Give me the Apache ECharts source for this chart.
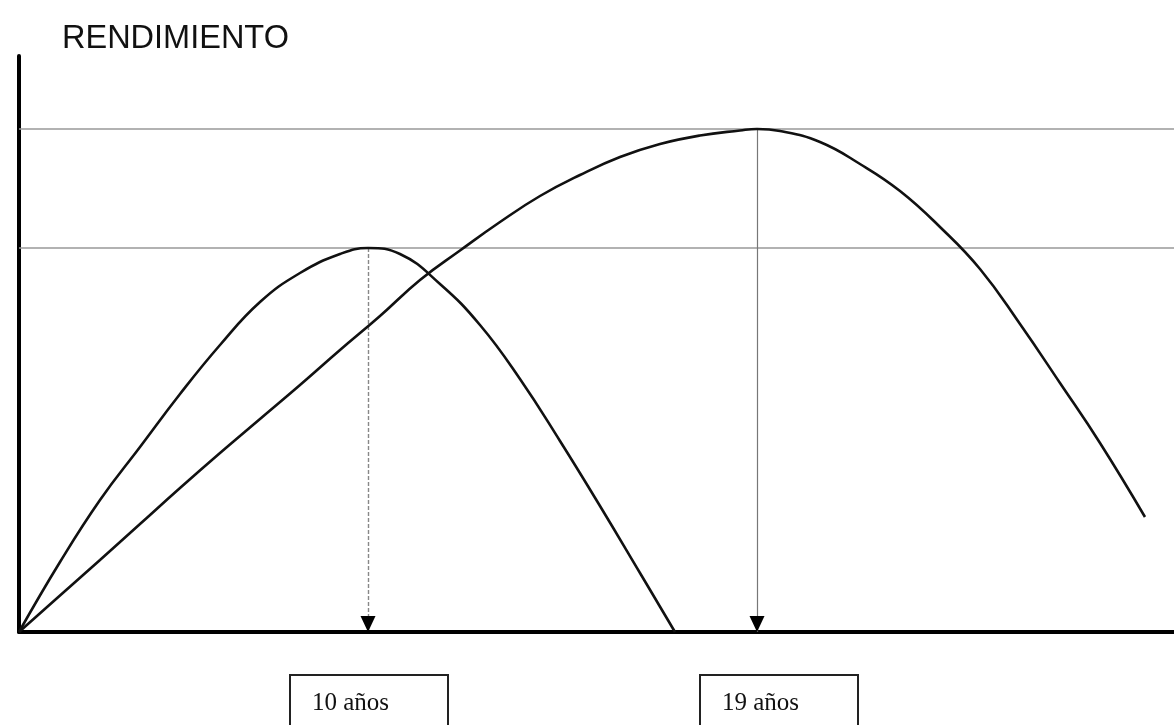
<!DOCTYPE html>
<html>
<head>
<meta charset="utf-8">
<script src="https://cdn.jsdelivr.net/npm/echarts@6/dist/echarts.min.js"></script>
<style>html,body{margin:0;padding:0;background:#fff;}#c{width:1174px;height:725px;}</style>
</head>
<body>
<div id="c"></div>
<script>
// Schematic units (horizontal: growth time, vertical: yield)
const yAxisTitle = 'RENDIMIENTO';
const curveShortX = [0, 4.1, 8.1, 12.1, 16.1, 20.1, 24.1, 28.1, 32.1, 34.9, 38.1, 42.1, 46.1, 50.1, 54.1, 58.1, 62.1, 65.6];
const curveShortY = [0, 14, 26.4, 37, 47.6, 57.4, 66, 71.8, 75.6, 76.8, 75.6, 69.6, 61.4, 50.6, 38.2, 25.2, 11.8, 0];
const curveLongX = [0, 4.1, 8.1, 12.1, 16.1, 20.1, 24.1, 28.1, 32.1, 36.1, 40.1, 44.1, 48.1, 52.1, 56.1, 60.1, 64.1, 68.1, 72.1, 73.8, 76.1, 80.1, 84.1, 88.1, 92.1, 96.1, 100.1, 104.1, 108.1, 112.6];
const curveLongY = [0, 7.3, 14.4, 21.6, 28.8, 35.8, 42.6, 49.4, 56.4, 63.2, 70.4, 76.3, 82, 87.2, 91.4, 95, 97.6, 99.3, 100.3, 100.6, 100.2, 98, 93.6, 88.2, 81, 72.6, 61.6, 49.8, 37.8, 23];
const rotationLabels = ['10 años', '19 años'];

const zip = (xs, ys) => xs.map((x, i) => [x, ys[i]]);
const peakOf = (xs, ys) => { let k = 0; ys.forEach((v, i) => { if (v > ys[k]) k = i; }); return [xs[k], ys[k]]; };
const p1 = peakOf(curveShortX, curveShortY);
const p2 = peakOf(curveLongX, curveLongY);

const chart = echarts.init(document.getElementById('c'), null, {renderer: 'canvas'});
const curveStyle = {color: '#111', width: 2.6};
const arrowPoint = (p) => ({
  symbol: 'triangle', symbolSize: [15, 16], symbolRotate: 180, symbolOffset: [0, '-50%'],
  silent: true, label: {show: false}, itemStyle: {color: '#000'},
  data: [{coord: [p[0], 0]}]
});
const option = {
  animation: false,
  backgroundColor: '#fff',
  title: {
    text: yAxisTitle, left: 62, top: 23, padding: 0,
    textStyle: {fontFamily: 'Liberation Sans, Arial, sans-serif', fontSize: 32.5, fontWeight: 'normal', color: '#111'}
  },
  grid: {left: 19, right: 0, top: 56, bottom: 93},
  xAxis: {
    type: 'value', min: 0, max: 115.5,
    axisLine: {show: true, onZero: false, lineStyle: {color: '#000', width: 4}},
    axisTick: {show: false}, axisLabel: {show: false}, splitLine: {show: false}
  },
  yAxis: {
    type: 'value', min: 0, max: 115.2,
    axisLine: {show: true, lineStyle: {color: '#000', width: 4}},
    axisTick: {show: false}, axisLabel: {show: false}, splitLine: {show: false}
  },
  series: [
    {
      type: 'line', data: zip(curveShortX, curveShortY), smooth: 0.45, showSymbol: false,
      lineStyle: curveStyle, z: 5,
      markLine: {
        silent: true, animation: false, label: {show: false}, symbol: 'none',
        data: [
          [{yAxis: p1[1], x: 19, lineStyle: {color: '#999', width: 1.5, type: 'solid'}},
           {yAxis: p1[1], x: 1174}],
          [{coord: [p1[0], p1[1]], lineStyle: {color: '#888', width: 1.4, type: [4, 2]}},
           {coord: [p1[0], 0]}]
        ]
      },
      markPoint: arrowPoint(p1)
    },
    {
      type: 'line', data: zip(curveLongX, curveLongY), smooth: 0.45, showSymbol: false,
      lineStyle: curveStyle, z: 5,
      markLine: {
        silent: true, animation: false, label: {show: false}, symbol: 'none',
        data: [
          [{yAxis: p2[1], x: 19, lineStyle: {color: '#999', width: 1.5, type: 'solid'}},
           {yAxis: p2[1], x: 1174}],
          [{coord: [p2[0], p2[1]], lineStyle: {color: '#777', width: 1.2, type: 'solid'}},
           {coord: [p2[0], 0]}]
        ]
      },
      markPoint: arrowPoint(p2)
    }
  ]
};
chart.setOption(option);

// label boxes under the arrows
const bx1 = chart.convertToPixel({gridIndex: 0}, [p1[0], 0])[0];
const bx2 = chart.convertToPixel({gridIndex: 0}, [p2[0], 0])[0];
const boxW = 158, boxTop = 674;
const boxLefts = [bx1 - boxW / 2, bx2 - 58];
chart.setOption({
  graphic: boxLefts.map((l, i) => ({
    type: 'group', left: l, top: boxTop,
    children: [
      {type: 'rect', shape: {x: 0, y: 0, width: boxW, height: 70}, style: {fill: '#fff', stroke: '#222', lineWidth: 2}},
      {type: 'text', x: 22, y: 16, style: {text: rotationLabels[i], fill: '#111', font: '25px "Liberation Serif", "Times New Roman", serif'}}
    ]
  }))
});
</script>
</body>
</html>
